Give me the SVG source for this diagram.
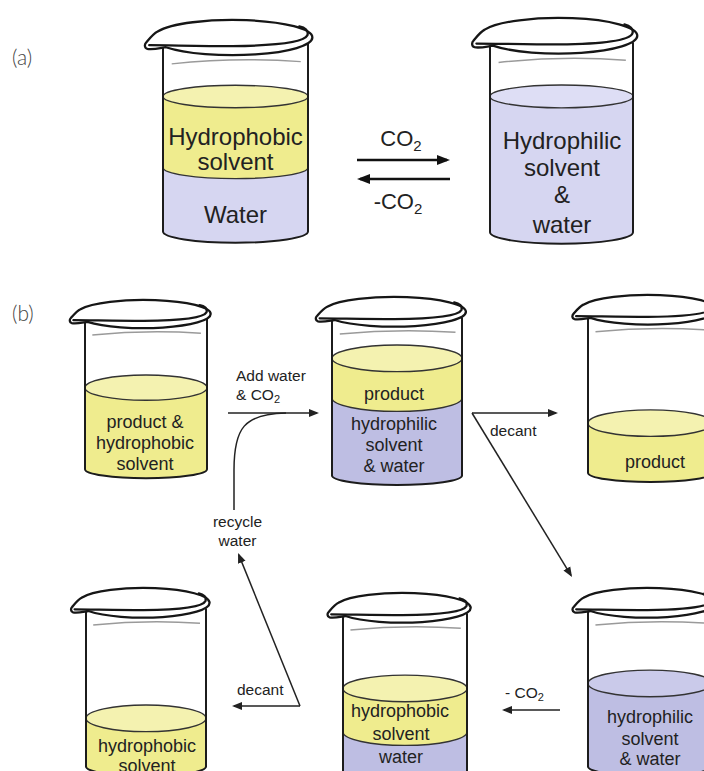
<svg xmlns="http://www.w3.org/2000/svg" width="704" height="771" viewBox="0 0 704 771">
  <style>
    text { font-family: "Liberation Sans", Arial, sans-serif; fill: #222; text-anchor: middle; }
    .big { font-size: 24px; }
    .mid { font-size: 18px; }
    .sm { font-size: 15.5px; text-anchor: start; }
    .smc { font-size: 15.5px; }
    .lab { font-family: Lato, "DejaVu Sans", sans-serif; font-weight: 300; font-size: 21px; fill: #444; text-anchor: start; }
    .rim { fill: none; stroke: #161616; stroke-width: 2.3; stroke-linejoin: round; stroke-linecap: round; vector-effect: non-scaling-stroke; }
    .wall { fill: none; stroke: #1c1c1c; stroke-width: 2; vector-effect: non-scaling-stroke; }
    .glint { fill: none; stroke: #9a9a9a; stroke-width: 1.5; vector-effect: non-scaling-stroke; }
    .edge { fill: none; stroke: #333; stroke-width: 1.4; vector-effect: non-scaling-stroke; }
    .yel { fill: #efec8e; }
    .yel-top { fill: #f4f2b0; stroke: #333; stroke-width: 1.4; vector-effect: non-scaling-stroke; }
    .lav { fill: #d6d6f1; }
    .lav-top { fill: #dedef5; stroke: #333; stroke-width: 1.4; vector-effect: non-scaling-stroke; }
    .pur { fill: #bebee3; }
    .pur-top { fill: #cacaea; stroke: #333; stroke-width: 1.4; vector-effect: non-scaling-stroke; }
    .arrA { fill: none; stroke: #111; stroke-width: 2.5; }
    .arrB { fill: none; stroke: #222; stroke-width: 1.5; }
  </style>
  <defs>
    <marker id="hA" markerUnits="userSpaceOnUse" markerWidth="14" markerHeight="12" refX="10" refY="6" orient="auto">
      <path d="M0,1 L13,6 L0,11 Z" fill="#111"/>
    </marker>
    <marker id="hB" markerUnits="userSpaceOnUse" markerWidth="11" markerHeight="9" refX="8" refY="4.5" orient="auto">
      <path d="M0,0.5 L10,4.5 L0,8.5 Z" fill="#222"/>
    </marker>
    <!-- glass beaker outline in local units: walls at x=-50..50, rim top y=0, bottom y~99 -->
    <g id="beaker">
      <path class="glint" d="M -44,19.5 Q 0,16.5 45,18.5"/>
      <path class="wall" d="M -50,12.2 L -50,94 A 50 5 0 0 0 50,94 L 50,10.6"/>
      <!-- rim ellipse with pouring spout on the left -->
      <path class="rim" d="M -53.7,5.1 A 55 7.8 0 0 1 53,7.8 A 55 7.8 0 0 1 -48,12.1 C -53,12.6 -57.5,13.3 -60.8,12.8 C -63,12.4 -62.8,10.8 -61.6,10 C -59,8 -56.6,6 -53.7,5.1 Z"/>
      <!-- rolled lip along the front -->
      <path class="rim" d="M -59.5,11.2 C -47,11.2 -25,11.6 -2,11.6 C 28,11.4 47.5,9.8 49.6,6.8 C 50.6,4.8 48,3.3 44,2.8"/>
    </g>
  </defs>

  <rect width="704" height="771" fill="#ffffff"/>

  <text class="lab" x="12" y="65">(a)</text>
  <text class="lab" x="12" y="321">(b)</text>

  <!-- (a) two-phase system -->
  <g id="beaker-a1">
    <g transform="translate(235.5,20) scale(1.45,2.25)">
      <path class="lav" d="M -50,65.5 L -50,94 A 50 5 0 0 0 50,94 L 50,65.5 Z"/>
      <path class="yel" d="M -50,34 L -50,65.5 A 50 5 0 0 0 50,65.5 L 50,34 Z"/>
      <path class="edge" d="M -50,65.5 A 50 5 0 0 0 50,65.5"/>
      <ellipse class="yel-top" cx="0" cy="34" rx="50" ry="5"/>
      <use href="#beaker"/>
    </g>
    <text class="big" x="235.5" y="145">Hydrophobic</text>
    <text class="big" x="235.5" y="170">solvent</text>
    <text class="big" x="235.5" y="223">Water</text>
  </g>

  <!-- (a) single phase system -->
  <g id="beaker-a2">
    <g transform="translate(561.5,18) scale(1.43,2.28)">
      <path class="lav" d="M -50,34.4 L -50,94 A 50 5 0 0 0 50,94 L 50,34.4 Z"/>
      <ellipse class="lav-top" cx="0" cy="34.4" rx="50" ry="5"/>
      <use href="#beaker"/>
    </g>
    <text class="big" x="562" y="149">Hydrophilic</text>
    <text class="big" x="562" y="176">solvent</text>
    <text class="big" x="562" y="203">&amp;</text>
    <text class="big" x="562" y="233">water</text>
  </g>

  <!-- (b) process beakers -->
  <g id="beaker-b1">
    <g transform="translate(146,300) scale(1.22,1.80)">
      <path class="yel" d="M -50,48.7 L -50,94 A 50 5 0 0 0 50,94 L 50,48.7 Z"/>
      <ellipse class="yel-top" cx="0" cy="48.7" rx="50" ry="7"/>
      <use href="#beaker"/>
    </g>
    <text class="mid" x="145" y="428">product &amp;</text>
    <text class="mid" x="145" y="449">hydrophobic</text>
    <text class="mid" x="145" y="470">solvent</text>
  </g>

  <g id="beaker-b2">
    <g transform="translate(397,297) scale(1.30,1.90)">
      <path class="pur" d="M -50,53.2 L -50,94 A 50 5 0 0 0 50,94 L 50,53.2 Z"/>
      <path class="yel" d="M -50,32.3 L -50,53.2 A 50 7 0 0 0 50,53.2 L 50,32.3 Z"/>
      <path class="edge" d="M -50,53.2 A 50 7 0 0 0 50,53.2"/>
      <ellipse class="yel-top" cx="0" cy="32.3" rx="50" ry="7"/>
      <use href="#beaker"/>
    </g>
    <text class="mid" x="394" y="400">product</text>
    <text class="mid" x="394" y="430">hydrophilic</text>
    <text class="mid" x="394" y="451">solvent</text>
    <text class="mid" x="394" y="472">&amp; water</text>
  </g>

  <g id="beaker-b3">
    <g transform="translate(650.5,295) scale(1.25,1.89)">
      <path class="yel" d="M -50,67.8 L -50,94 A 50 5 0 0 0 50,94 L 50,67.8 Z"/>
      <ellipse class="yel-top" cx="0" cy="67.8" rx="50" ry="7"/>
      <use href="#beaker"/>
    </g>
    <text class="mid" x="655" y="468">product</text>
  </g>

  <g id="beaker-b4">
    <g transform="translate(146,588) scale(1.20,1.90)">
      <path class="yel" d="M -50,68.6 L -50,94 A 50 5 0 0 0 50,94 L 50,68.6 Z"/>
      <ellipse class="yel-top" cx="0" cy="68.6" rx="50" ry="7"/>
      <use href="#beaker"/>
    </g>
    <text class="mid" x="147" y="752">hydrophobic</text>
    <text class="mid" x="147" y="772">solvent</text>
  </g>

  <g id="beaker-b5">
    <g transform="translate(405,593) scale(1.24,1.90)">
      <path class="pur" d="M -50,73.2 L -50,94 A 50 5 0 0 0 50,94 L 50,73.2 Z"/>
      <path class="yel" d="M -50,50.2 L -50,73.2 A 50 7 0 0 0 50,73.2 L 50,50.2 Z"/>
      <path class="edge" d="M -50,73.2 A 50 7 0 0 0 50,73.2"/>
      <ellipse class="yel-top" cx="0" cy="50.2" rx="50" ry="7"/>
      <use href="#beaker"/>
    </g>
    <text class="mid" x="400" y="717">hydrophobic</text>
    <text class="mid" x="401" y="740">solvent</text>
    <text class="mid" x="401" y="763">water</text>
  </g>

  <g id="beaker-b6">
    <g transform="translate(650,588) scale(1.24,1.90)">
      <path class="pur" d="M -50,50.2 L -50,94 A 50 5 0 0 0 50,94 L 50,50.2 Z"/>
      <ellipse class="pur-top" cx="0" cy="50.2" rx="50" ry="7"/>
      <use href="#beaker"/>
    </g>
    <text class="mid" x="650" y="723">hydrophilic</text>
    <text class="mid" x="650" y="745">solvent</text>
    <text class="mid" x="650" y="765">&amp; water</text>
  </g>

  <g id="connectors">
    <!-- (a) CO2 switching -->
    <path class="arrA" d="M357,160 L447,160" marker-end="url(#hA)"/>
    <path class="arrA" d="M450,179 L360,179" marker-end="url(#hA)"/>
    <!-- (b) process steps -->
    <path class="arrB" d="M228,413 L317,413" marker-end="url(#hB)"/>
    <path class="arrB" d="M234,510 L234,470 C234,428 244,414 286,413"/>
    <path class="arrB" d="M472,413 L556,413" marker-end="url(#hB)"/>
    <path class="arrB" d="M472,413 L571,575.3" marker-end="url(#hB)"/>
    <path class="arrB" d="M560,710 L504,710" marker-end="url(#hB)"/>
    <path class="arrB" d="M300,706 L234,706" marker-end="url(#hB)"/>
    <path class="arrB" d="M300,706 L238.8,554.9" marker-end="url(#hB)"/>
  </g>

  <g id="labels">
    <text class="big" x="401" y="146" style="font-size:22px">CO<tspan font-size="15" dy="5">2</tspan></text>
    <text class="big" x="398" y="209" style="font-size:22px">-CO<tspan font-size="15" dy="5">2</tspan></text>
    <text class="sm" x="236" y="381">Add water</text>
    <text class="sm" x="236" y="400">&amp; CO<tspan font-size="11" dy="3">2</tspan></text>
    <text class="smc" x="237.5" y="527">recycle</text>
    <text class="smc" x="237.5" y="546">water</text>
    <text class="sm" x="490" y="436">decant</text>
    <text class="sm" x="237" y="695">decant</text>
    <text class="sm" x="505" y="698">- CO<tspan font-size="11" dy="3">2</tspan></text>
  </g>
</svg>
